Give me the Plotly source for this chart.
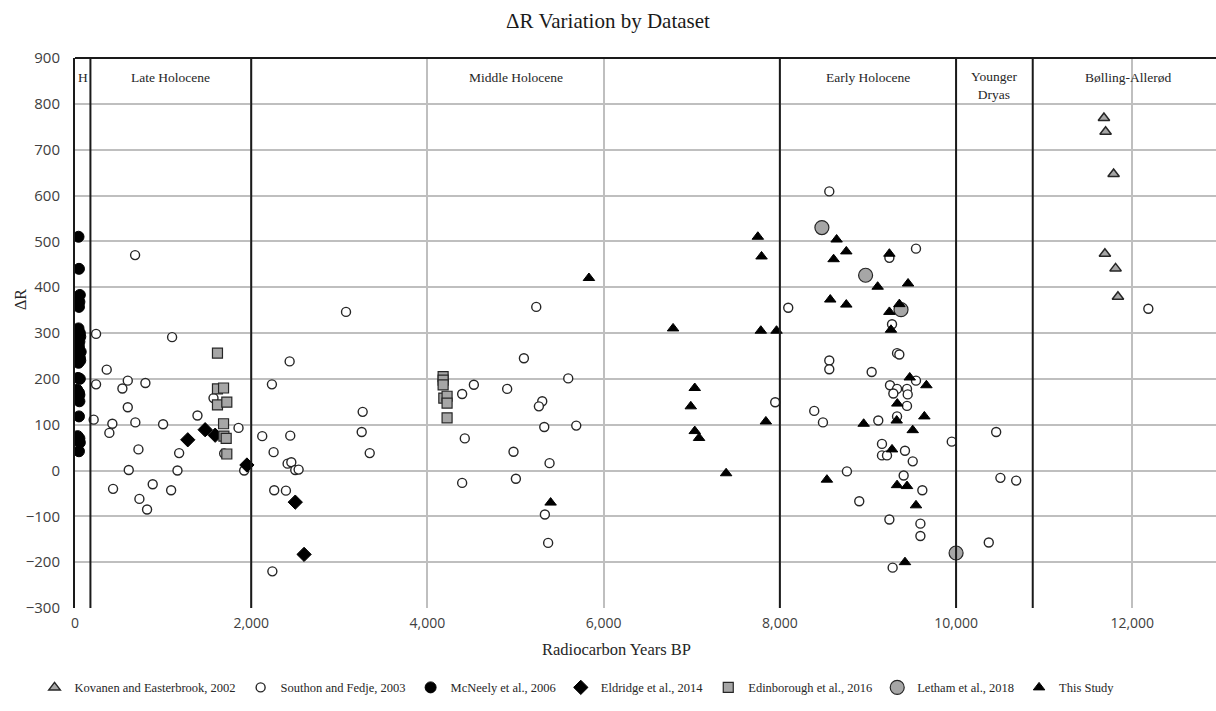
import plotly.graph_objects as go

# ---------------- data ----------------
kovanen_x = [11678, 11697, 11788, 11689, 11810, 11837]
kovanen_y = [769, 739, 647, 473, 441, 379]

southon_x = [239, 360, 239, 538, 599, 599, 799, 212, 424, 390, 685, 1000, 720, 610, 432, 731, 818, 882,
             1091, 1182, 1163, 1102, 1390, 1572, 1856, 1693, 1920, 682,
             2125, 2235, 2254, 2261, 2394, 2436, 2443, 2413, 2455, 2500, 2538, 2240, 3076, 3265, 3254, 3345,
             5235, 5095, 4527, 4394, 4905, 5598, 5303, 5265, 5326, 5689, 4424, 4977, 5386, 4394, 5004, 5333,
             5370, 7947,
             8561, 9545, 9243, 8095, 9273, 9330, 9356, 8561, 8561, 9042, 9545, 9250, 9330, 9443, 9288, 9451,
             9443, 8390, 8489, 9117, 9330, 9951, 9159, 9159, 9216, 9420, 9508, 8761, 9405, 9617, 8901, 9243,
             9595, 9595, 9280,
             10455, 10503, 10682, 10371, 12182]
southon_y = [298, 220, 188, 179, 196, 138, 191, 111, 102, 82, 105, 101, 46, 1, -40, -62, -85, -30,
             -43, 38, 0, 291, 120, 158, 93, 37, 0, 470,
             75, 188, 40, -43, -44, 238, 76, 15, 18, 1, 2, -220, 346, 128, 84, 38,
             357, 245, 187, 167, 178, 201, 151, 140, 95, 98, 70, 41, 16, -27, -18, -96,
             -158, 149,
             609, 484, 464, 355, 319, 256, 253, 240, 221, 215, 196, 186, 178, 178, 168, 166,
             141, 130, 105, 109, 118, 63, 58, 33, 33, 43, 20, -2, -11, -43, -67, -107,
             -116, -143, -212,
             84, -16, -22, -157, 353]

mcneely_x = [40, 45, 55, 30, 50, 45, 40, 55, 60, 50, 45, 65, 30, 55, 60, 40, 35, 55, 25, 45, 50, 50, 45, 30, 50, 55, 45]
mcneely_y = [510, 440, 383, 375, 368, 357, 310, 300, 292, 281, 270, 259, 250, 246, 240, 235, 202, 200, 176, 170,
             165, 151, 118, 75, 70, 61, 42]

eldridge_x = [1280, 1477, 1591, 1951, 2500, 2600]
eldridge_y = [67, 89, 77, 12, -69, -183]

edin_x = [1617, 1617, 1686, 1617, 1723, 1686, 1690, 1716, 1723, 4178, 4178, 4178, 4186, 4223, 4223, 4223]
edin_y = [256, 178, 180, 143, 149, 102, 75, 70, 36, 205, 197, 187, 158, 162, 147, 115]

letham_x = [8477, 8973, 9375, 10000]
letham_y = [530, 426, 351, -180]

study_x = [5833, 5398, 6788, 7750, 7792, 7784, 7962, 7034, 6989, 7034, 7083, 7390, 7841,
           8644, 8754, 8610, 9243, 9110, 9455, 8572, 8754, 9243, 9356, 9261, 9474, 9663, 9333, 9640,
           8951, 9326, 9508, 9273, 8534, 9330, 9443, 9545, 9420]
study_y = [420, -70, 310, 510, 467, 305, 305, 180, 140, 86, 71, -6, 107,
           504, 478, 461, 473, 401, 408, 373, 362, 346, 363, 307, 203, 186, 146, 118,
           102, 109, 88, 46, -20, -32, -34, -76, -200]

period_bounds = [175, 2000, 8000, 10000, 10870]
period_labels = ["H", "Late Holocene", "Middle Holocene", "Early Holocene", "Younger<br>Dryas", "Bølling-Allerød"]
period_label_x = [90, 1080, 5000, 9000, 10430, 11950]

x_ticks = [0, 2000, 4000, 6000, 8000, 10000, 12000]
x_ticktext = ["0", "2,000", "4,000", "6,000", "8,000", "10,000", "12,000"]

# ---------------- figure ----------------
SERIF = "Liberation Serif"
SANS = "Open Sans"
DARK = "#262626"

fig = go.Figure()

fig.add_trace(go.Scatter(x=kovanen_x, y=kovanen_y, mode="markers", name="Kovanen and Easterbrook, 2002",
                         marker=dict(symbol="triangle-up", size=10, color="#a6a6a6", line=dict(color=DARK, width=1.5))))
fig.add_trace(go.Scatter(x=southon_x, y=southon_y, mode="markers", name="Southon and Fedje, 2003",
                         marker=dict(symbol="circle", size=9, color="white", line=dict(color=DARK, width=1.4))))
fig.add_trace(go.Scatter(x=mcneely_x, y=mcneely_y, mode="markers", name="McNeely et al., 2006",
                         marker=dict(symbol="circle", size=11, color="black", line=dict(color="black", width=1))))
fig.add_trace(go.Scatter(x=eldridge_x, y=eldridge_y, mode="markers", name="Eldridge et al., 2014",
                         marker=dict(symbol="diamond", size=11, color="black", line=dict(color="black", width=1))))
fig.add_trace(go.Scatter(x=edin_x, y=edin_y, mode="markers", name="Edinborough et al., 2016",
                         marker=dict(symbol="square", size=10, color="#a6a6a6", line=dict(color=DARK, width=1.2))))
fig.add_trace(go.Scatter(x=letham_x, y=letham_y, mode="markers", name="Letham et al., 2018",
                         marker=dict(symbol="circle", size=14, color="#a6a6a6", line=dict(color=DARK, width=1.2))))
fig.add_trace(go.Scatter(x=study_x, y=study_y, mode="markers", name="This Study",
                         marker=dict(symbol="triangle-up", size=10, color="black", line=dict(color="black", width=1))))

shapes = []
for b in period_bounds:
    shapes.append(dict(type="line", xref="x", yref="paper", x0=b, x1=b, y0=0, y1=1,
                       line=dict(color="#1a1a1a", width=2)))
shapes.append(dict(type="line", xref="paper", yref="paper", x0=0, x1=1, y0=1, y1=1,
                   line=dict(color="#1a1a1a", width=2)))

annotations = []
for lab, lx in zip(period_labels, period_label_x):
    annotations.append(dict(x=lx, y=0.965 if "<br>" not in lab else 0.95, xref="x", yref="paper",
                            text=lab, showarrow=False, xanchor="center", yanchor="middle",
                            font=dict(family=SERIF, size=13.5, color=DARK)))
annotations.append(dict(x=0.475, y=-0.076, xref="paper", yref="paper", text="Radiocarbon Years BP",
                        showarrow=False, xanchor="center", yanchor="middle",
                        font=dict(family=SERIF, size=16.5, color=DARK)))
annotations.append(dict(x=(20 - 75) / 1141, y=0.56, xref="paper", yref="paper", text="ΔR", textangle=-90,
                        showarrow=False, xanchor="center", yanchor="middle",
                        font=dict(family=SERIF, size=16, color=DARK)))

fig.update_layout(
    width=1216, height=711,
    margin=dict(l=75, r=0, t=58, b=103, autoexpand=False),
    paper_bgcolor="white", plot_bgcolor="white",
    title=dict(text="ΔR Variation by Dataset", x=0.5, xref="container", y=0.971, yref="container",
               xanchor="center", yanchor="middle", font=dict(family=SERIF, size=21, color="#1a1a1a")),
    xaxis=dict(range=[0, 12950], tickvals=x_ticks, ticktext=x_ticktext, showgrid=True,
               gridcolor="#bfbfbf", gridwidth=1.5, zeroline=False, showline=False, ticks="",
               ticklabelstandoff=5, automargin=False,
               tickfont=dict(family=SANS, size=14, color="#404040")),
    yaxis=dict(range=[-300, 900], dtick=100, showgrid=True, gridcolor="#bfbfbf", gridwidth=1.5,
               zeroline=False, showline=True, linecolor="#1a1a1a", linewidth=2, ticks="",
               ticklabelstandoff=10, automargin=False,
               tickfont=dict(family=SANS, size=15, color="#404040")),
    legend=dict(orientation="h", x=0.44, xanchor="center", y=-0.145, yanchor="middle",
                font=dict(family=SERIF, size=12.5, color=DARK), itemwidth=30, tracegroupgap=0),
    shapes=shapes, annotations=annotations,
)

fig.write_html("out.html", config={"displayModeBar": False},
               post_script="document.body.style.margin='0';document.body.style.padding='0';")
